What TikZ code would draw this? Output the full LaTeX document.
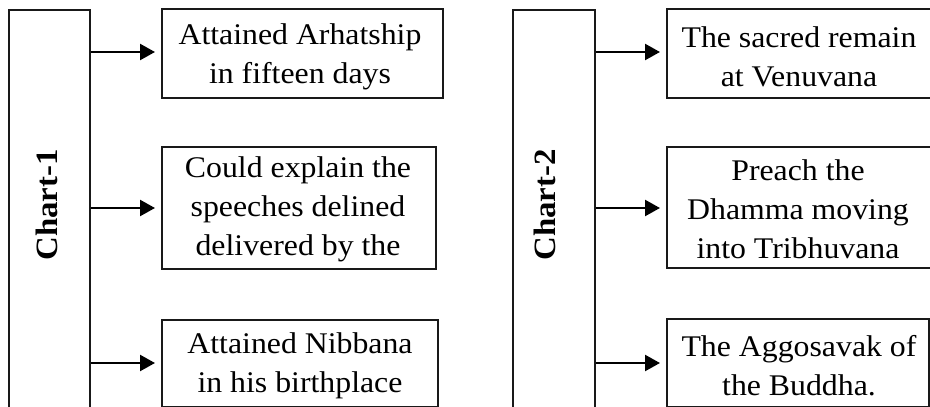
\documentclass[tikz,border=0pt]{standalone}
\usepackage{fontspec}
\setmainfont[FakeStretch=1.06]{Liberation Serif}
\usetikzlibrary{arrows.meta}
\begin{document}
\begin{tikzpicture}[x=1pt,y=-1pt,
  box/.style={draw=black!90,line width=2.3pt,inner sep=0pt,anchor=north west},
  txt/.style={align=center,font=\fontsize{30}{39}\selectfont,inner sep=0pt},
  chartlbl/.style={rotate=90,font=\fontsize{31}{37}\selectfont\bfseries,inner sep=0pt},
  arr/.style={line width=2.4pt,-{Triangle[length=15pt,width=16pt]},shorten >=6pt}]
\useasboundingbox (0,0) rectangle (930,407);
% Chart 1
\node[box,minimum width=81pt,minimum height=400pt] (c1) at (8,9) {};
\node[chartlbl] (c1t) at (47,205) {Chart-1};
\node[box,minimum width=281pt,minimum height=89pt] (a1) at (161,8) {};
\node[box,minimum width=274pt,minimum height=122pt] (a2) at (161,146) {};
\node[box,minimum width=276pt,minimum height=87pt] (a3) at (161,319) {};
\node[txt] (a1t) at (300,57) {Attained Arhatship\\in fifteen days};
\node[txt] (a2t) at (298,209) {Could explain the\\speeches delined\\delivered by the};
\node[txt] (a3t) at (300,366) {Attained Nibbana\\in his birthplace};
\draw[arr] (c1.east |- 0,52) -- (a1.west |- 0,52);
\draw[arr] (c1.east |- 0,208) -- (a2.west |- 0,208);
\draw[arr] (c1.east |- 0,363) -- (a3.west |- 0,363);
% Chart 2
\node[box,minimum width=82pt,minimum height=400pt] (c2) at (512,9) {};
\node[chartlbl] (c2t) at (545,205) {Chart-2};
\node[box,minimum width=275pt,minimum height=89pt] (b1) at (666,8) {};
\node[box,minimum width=275pt,minimum height=121pt] (b2) at (666,146) {};
\node[box,minimum width=262pt,minimum height=88pt] (b3) at (666,318) {};
\node[txt] (b1t) at (799,57) {The sacred remain\\at Venuvana};
\node[txt] (b2t) at (798,209) {Preach the\\Dhamma moving\\into Tribhuvana};
\node[txt] (b3t) at (799,366) {The Aggosavak of\\the Buddha.};
\draw[arr] (c2.east |- 0,52) -- (b1.west |- 0,52);
\draw[arr] (c2.east |- 0,208) -- (b2.west |- 0,208);
\draw[arr] (c2.east |- 0,363) -- (b3.west |- 0,363);
\end{tikzpicture}
\end{document}
